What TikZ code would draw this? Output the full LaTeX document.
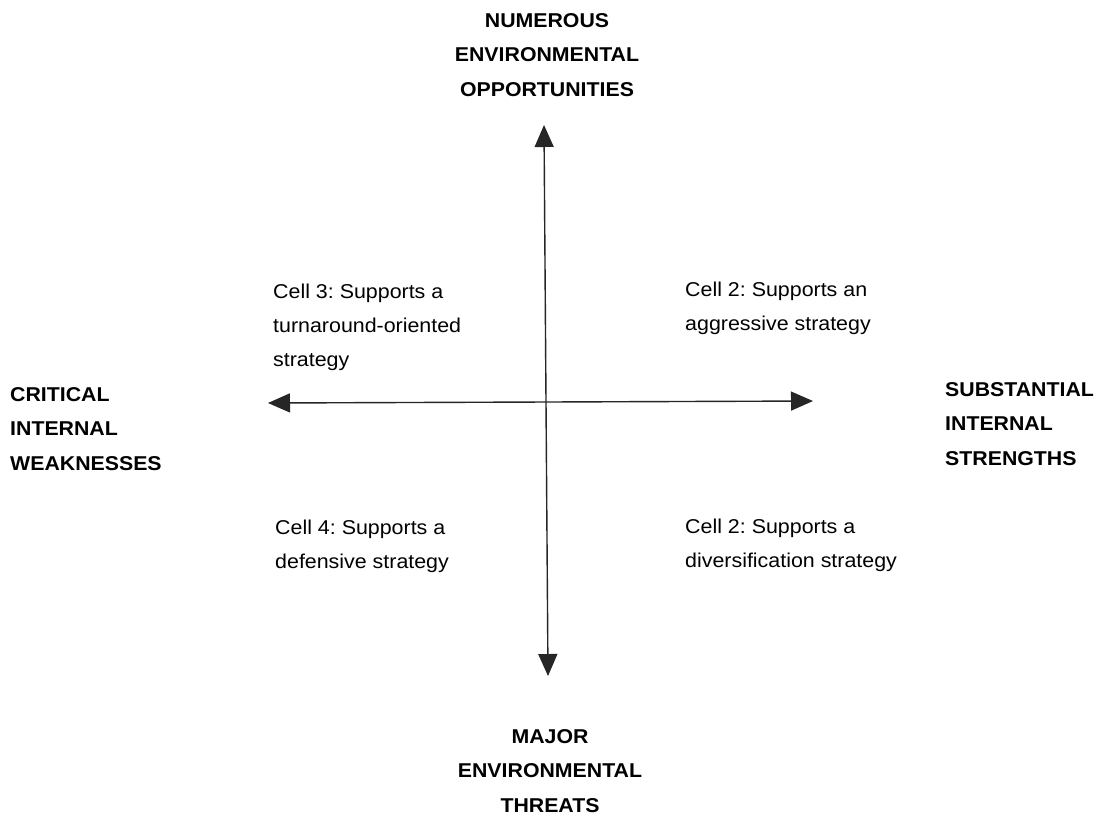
\documentclass[tikz,border=0pt]{standalone}
\usepackage{fontspec}
\setmainfont{Liberation Sans}
\newfontfamily\polefont{Liberation Sans Bold}[FakeStretch=1.065]
\newfontfamily\cellfont{Liberation Sans}[FakeStretch=1.07]
\usetikzlibrary{arrows.meta}
\begin{document}
\frenchspacing
\begin{tikzpicture}[x=1pt,y=-1pt,
  axis/.style={line width=1.4pt,draw=black!85,-{Triangle[length=22pt,width=19pt]}},
  pole/.style={font=\polefont\fontsize{20}{34.5}\selectfont,inner sep=0pt,align=center,anchor=north},
  side/.style={font=\polefont\fontsize{20}{34.5}\selectfont,inner sep=0pt,align=left,anchor=north west},
  cell/.style={font=\cellfont\fontsize{20}{34}\selectfont,inner sep=0pt,align=left,anchor=north west}]
\useasboundingbox (0,0) rectangle (1094,812);
\fill[white] (0,0) rectangle (1094,812);
% axis end points and crossing
\coordinate (c) at (546,402);
\coordinate (top) at (544,125);
\coordinate (bottom) at (548,676);
\coordinate (left) at (268,403);
\coordinate (right) at (813,401);
\draw[axis] (c) -- (top);
\draw[axis] (c) -- (bottom);
\draw[axis] (c) -- (left);
\draw[axis] (c) -- (right);
% pole labels
\node[pole] (opp) at (547,13) {NUMEROUS\\ENVIRONMENTAL\\OPPORTUNITIES};
\node[pole] (thr) at (550,729) {MAJOR\\ENVIRONMENTAL\\THREATS};
\node[side] (weak) at (10,387) {CRITICAL\\INTERNAL\\WEAKNESSES};
\node[side] (str) at (945,382) {SUBSTANTIAL\\INTERNAL\\STRENGTHS};
% quadrant descriptions
\node[cell] (c3) at (273,284) {Cell 3: Supports a\\turnaround-oriented\\strategy};
\node[cell] (c2a) at (685,282) {Cell 2: Supports an\\aggressive strategy};
\node[cell] (c4) at (275,520) {Cell 4: Supports a\\defensive strategy};
\node[cell] (c2b) at (685,519) {Cell 2: Supports a\\diversification strategy};
\end{tikzpicture}
\end{document}
